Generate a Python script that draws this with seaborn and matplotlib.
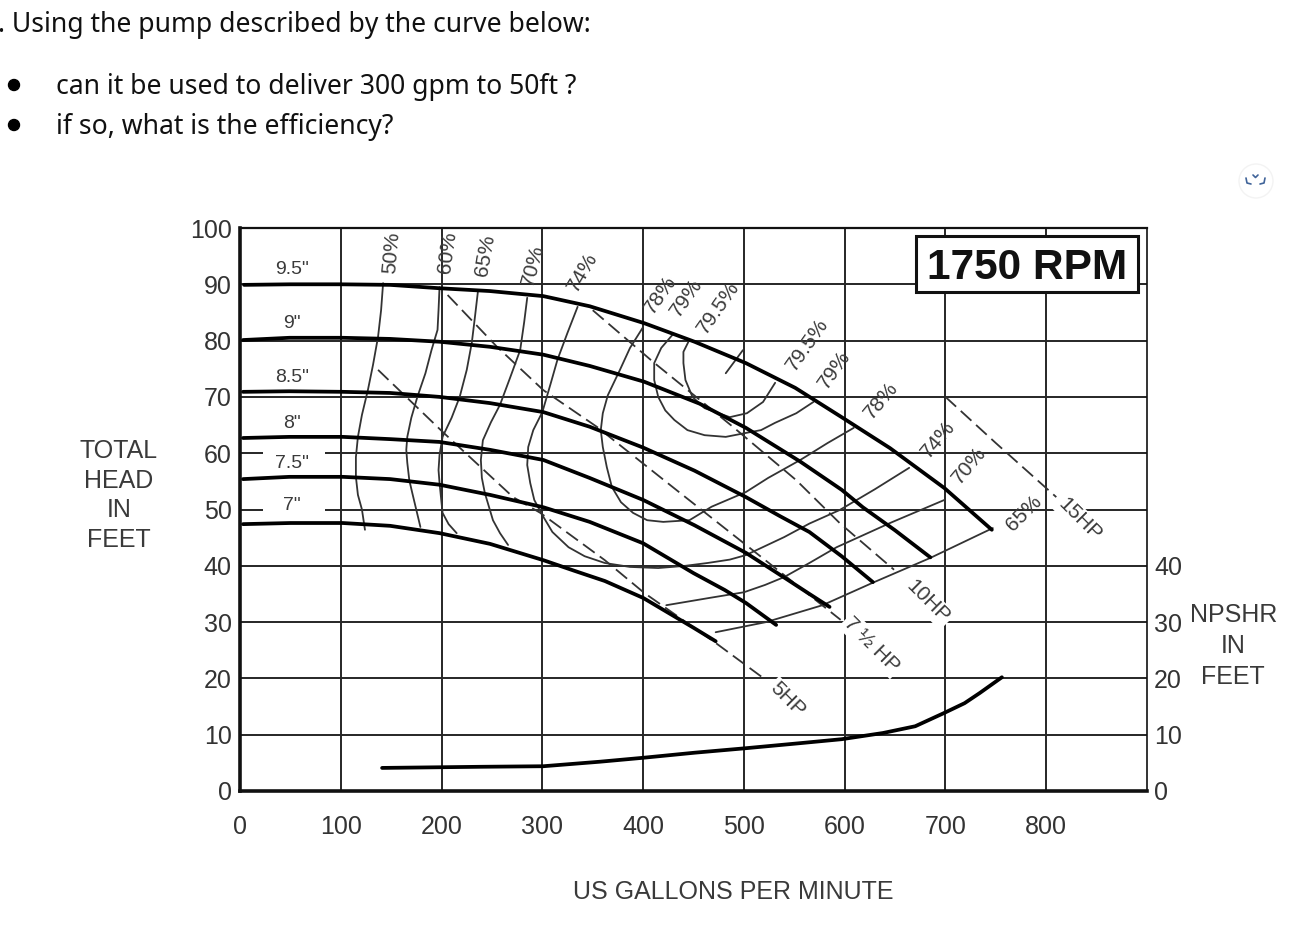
import matplotlib
matplotlib.use('Agg')
import matplotlib.pyplot as plt
from matplotlib.lines import Line2D
from matplotlib.patches import Rectangle, Ellipse
import seaborn as sns

W, H = 1308, 936

# impeller curves: gpm, head
gpm_95 = [4, 50, 99, 149, 198, 248, 301, 347, 401, 451, 502, 551, 597, 645, 699, 746]
head_95 = [89.9, 90, 90, 89.9, 89.3, 88.8, 87.9, 86.1, 83.1, 79.8, 76, 71.6, 66.4, 60.9, 53.8, 46.4]
gpm_90 = [3, 49, 102, 149, 198, 248, 301, 347, 401, 456, 502, 556, 597, 618, 650, 685]
head_90 = [80.1, 80.5, 80.5, 80.3, 79.8, 78.9, 77.5, 75.5, 72.7, 68.8, 64.5, 58.5, 53.5, 50.4, 46.3, 41.5]
gpm_85 = [3, 49, 102, 149, 198, 248, 301, 347, 400, 451, 502, 536, 565, 597, 628]
head_85 = [70.9, 71, 70.9, 70.7, 70, 68.9, 67.3, 64.7, 61, 56.9, 52.2, 48.8, 46, 41.7, 37.1]
gpm_80 = [3, 49, 102, 149, 198, 248, 301, 347, 400, 451, 502, 541, 565, 585]
head_80 = [62.7, 62.9, 62.9, 62.5, 62, 60.6, 58.8, 55.6, 51.7, 47.2, 42.3, 37.8, 35, 32.7]
gpm_75 = [3, 49, 102, 149, 198, 248, 301, 347, 400, 450, 481, 502, 532]
head_75 = [55.4, 55.8, 55.8, 55.4, 54.4, 52.6, 50.4, 47.8, 44, 38.7, 35.7, 33.4, 29.5]
gpm_70 = [3, 50, 102, 149, 198, 248, 301, 332, 362, 400, 450, 472]
head_70 = [47.4, 47.6, 47.6, 47.1, 45.8, 43.9, 41, 39.1, 37.3, 34.3, 29, 26.6]

# NPSHR
gpm_npshr = [141, 238, 301, 357, 400, 451, 502, 556, 597, 638, 670, 698, 719, 734, 756]
npshr = [4.1, 4.3, 4.4, 5.2, 5.9, 6.8, 7.6, 8.5, 9.2, 10.3, 11.5, 13.8, 15.6, 17.4, 20.2]

# efficiency lines
eff_50_x = [142, 140, 137, 132, 127, 121, 117, 115, 115, 117, 121, 124]
eff_50_y = [90.2, 85.4, 80.7, 75.7, 71.3, 66.8, 62.9, 59.3, 55.8, 52.6, 50, 46.4]
eff_60_x = [198, 197, 196, 190, 184, 176, 170, 166, 165, 166, 168, 171, 179]
eff_60_y = [89.5, 85.4, 81.9, 78.3, 74.2, 70, 66.3, 62.9, 60.6, 58.3, 55.2, 52.9, 46.9]
eff_65_x = [236, 233, 230, 225, 218, 210, 201, 198, 197, 198, 201, 207, 215]
eff_65_y = [88.6, 84, 79.6, 74.8, 70, 66.3, 62.9, 59.7, 57, 54.7, 49.4, 47.4, 45.8]
eff_70_x = [285, 282, 278, 268, 258, 249, 241, 239, 240, 243, 251, 258, 266]
eff_70_y = [87.6, 83.3, 78.3, 73.4, 68.6, 65.5, 62.3, 58.8, 55.6, 52.9, 48.1, 45.8, 43.7]
eff_74_x = [335, 325, 315, 308, 300, 291, 286, 285, 288, 292, 300, 310, 326, 342, 362, 387, 415,
            442, 464, 486, 502, 521, 540, 565, 595, 630, 664]
eff_74_y = [86, 81.4, 76.6, 72.2, 67.3, 64.1, 61.1, 57.9, 54.7, 51.7, 49, 46, 43.3, 41.7, 40.5, 39.8, 39.6,
            40, 40.5, 41.1, 41.9, 43.5, 45.1, 47.5, 49.9, 53.6, 57.4]
eff_78_x = [400, 387, 377, 365, 360, 358, 360, 364, 369, 378, 390, 404, 420, 446, 468, 502, 524, 556, 583, 609]
eff_78_y = [82.4, 78.7, 74.8, 70.3, 67.1, 64.1, 61.1, 57.5, 54, 51.3, 49.4, 48.1, 47.8, 48.1, 50.5, 53.1,
            55.6, 58.8, 61.8, 64.5]
eff_79_x = [429, 418, 411, 411, 415, 422, 431, 444, 461, 482, 502, 517, 531, 552, 569]
eff_79_y = [81, 78.7, 76, 73, 70, 67.6, 65.9, 64.1, 63.2, 62.9, 63.6, 64.1, 65.4, 67.1, 69.1]
eff_795_x = [445, 440, 440, 442, 449, 461, 486, 503, 519, 531]
eff_795_y = [79.8, 78, 76, 73, 70, 68, 66.4, 67.1, 69.1, 72.5]
eff_tick_x = [482, 499]
eff_tick_y = [74.2, 78.3]
eff_low65_x = [472, 522, 578, 628, 685, 747]
eff_low65_y = [28.2, 30, 33, 37, 41.4, 46.7]
eff_low70_x = [423, 466, 500, 521, 540, 565, 592, 645, 699]
eff_low70_y = [33, 34.3, 35.3, 36.6, 38, 40.5, 43.3, 47.6, 51.7]

# horsepower lines
hp_15_x = [700, 750, 810]
hp_15_y = [70, 61.8, 52.2]
hp_10_x = [350, 410, 489, 552, 595, 649]
hp_10_y = [85.4, 76.2, 64.7, 55.2, 47.6, 39.3]
hp_75_x = [206, 255, 301, 354, 437, 500, 546, 596]
hp_75_y = [88.1, 78.9, 71.2, 64.7, 52.9, 44, 37.5, 30.4]
hp_5_x = [137, 201, 271, 298, 362, 401, 472, 522]
hp_5_y = [74.8, 63.8, 52.2, 49.4, 41, 35.2, 26.3, 19.7]

x_ticks = [0, 100, 200, 300, 400, 500, 600, 700, 800]
y_ticks = [0, 10, 20, 30, 40, 50, 60, 70, 80, 90, 100]
npshr_ticks = [0, 10, 20, 30, 40]

sns.set_theme(style='white')
plt.rcParams['font.family'] = ['Liberation Sans', 'DejaVu Sans']

fig = plt.figure(figsize=(W / 100, H / 100), dpi=100)
ax = fig.add_axes([240 / W, 1 - 791 / H, 907 / W, 563 / H])
ax.set_xlim(0, 900)
ax.set_ylim(0, 100)

grid_col = '#262626'
ax.set_xticks(x_ticks)
ax.set_yticks(y_ticks)
ax.grid(True, color=grid_col, lw=1.4)
ax.set_axisbelow(True)
ax.tick_params(axis='x', length=0, pad=17, labelsize=18, labelcolor='#333333')
ax.tick_params(axis='y', length=0, pad=6, labelsize=18, labelcolor='#333333')
for side, lw in [('left', 2.6), ('bottom', 2.6), ('top', 1.6), ('right', 1.2)]:
    ax.spines[side].set_visible(True)
    ax.spines[side].set_linewidth(lw)
    ax.spines[side].set_color('#111111')

ax2 = ax.twinx()
ax2.set_ylim(0, 100)
ax2.set_yticks(npshr_ticks)
ax2.tick_params(axis='y', length=0, pad=5, labelsize=18, labelcolor='#333333')
ax2.grid(False)
for s in ax2.spines.values():
    s.set_visible(False)

# gaps in the grid next to the 7.5" and 7" labels
ax.hlines([60, 50], 23, 84, color='white', lw=4, zorder=1.5)

for xs, ys in [(eff_50_x, eff_50_y), (eff_60_x, eff_60_y), (eff_65_x, eff_65_y),
               (eff_70_x, eff_70_y), (eff_74_x, eff_74_y), (eff_78_x, eff_78_y),
               (eff_79_x, eff_79_y), (eff_795_x, eff_795_y), (eff_tick_x, eff_tick_y),
               (eff_low65_x, eff_low65_y), (eff_low70_x, eff_low70_y)]:
    sns.lineplot(x=xs, y=ys, sort=False, estimator=None, color='#333333', lw=1.3, ax=ax, zorder=2)

for xs, ys in [(hp_15_x, hp_15_y), (hp_10_x, hp_10_y), (hp_75_x, hp_75_y), (hp_5_x, hp_5_y)]:
    sns.lineplot(x=xs, y=ys, sort=False, estimator=None, color='#333333', lw=1.3,
                 linestyle=(0, (8, 3.5)), ax=ax, zorder=2)

for xs, ys in [(gpm_95, head_95), (gpm_90, head_90), (gpm_85, head_85),
               (gpm_80, head_80), (gpm_75, head_75), (gpm_70, head_70),
               (gpm_npshr, npshr)]:
    sns.lineplot(x=xs, y=ys, sort=False, estimator=None, color='black', lw=2.7, ax=ax, zorder=3)

ax.add_patch(Rectangle((670.6, 88.6), 220, 10, facecolor='white', edgecolor='#111111', lw=2.2, zorder=4))


def ptext(px, py, s, **kw):
    kw.setdefault('ha', 'center')
    kw.setdefault('va', 'center')
    kw.setdefault('color', '#3a3a3a')
    return fig.text(px / W, 1 - py / H, s, **kw)


ptext(1027, 268, '1750 RPM', fontsize=30.5, fontweight='bold', color='#111111', zorder=6)

# impeller labels
for py, s in [(270, '9.5"'), (324, '9"'), (378, '8.5"'), (423, '8"'), (463, '7.5"'), (505, '7"')]:
    ptext(292, py, s, fontsize=14)

# efficiency labels
eff_labels = [(392, 253, '50%', 85), (447, 252, '60%', 82), (485, 255, '65%', 80),
              (533, 265, '70%', 75), (583, 272, '74%', 60), (660, 295, '78%', 55),
              (686, 298, '79%', 55), (718, 308, '79.5%', 55), (807, 345, '79.5%', 55),
              (834, 370, '79%', 55), (881, 400, '78%', 50), (938, 439, '74%', 50),
              (969, 465, '70%', 50), (1024, 513, '65%', 45)]
for px, py, s, rot in eff_labels:
    ptext(px, py, s, fontsize=15, rotation=rot, rotation_mode='anchor')

hp_labels = [(1080, 520, '15HP'), (928, 602, '10HP'), (872, 645, '7 ½ HP'), (787, 700, '5HP')]
for px, py, s in hp_labels:
    ptext(px, py, s, fontsize=15, rotation=-45, rotation_mode='anchor',
          bbox=dict(facecolor='white', edgecolor='none', pad=1.5))

# axis titles
for py, s in [(451, 'TOTAL'), (481, 'HEAD'), (510, 'IN'), (540, 'FEET')]:
    ptext(119, py, s, fontsize=18)
for px, py, s in [(1234, 615, 'NPSHR'), (1233, 646, 'IN'), (1233, 677, 'FEET')]:
    ptext(px, py, s, fontsize=18)
ptext(733, 892, 'US GALLONS PER MINUTE', fontsize=18)

# question text above the chart
qfont = dict(family=['Noto Sans', 'DejaVu Sans'], color='#111111', ha='left', fontsize=19.1)
ptext(-2, 25, '. Using the pump described by the curve below:', **qfont)
ptext(56, 87, 'can it be used to deliver 300 gpm to 50ft ?', **qfont)
ptext(56, 127, 'if so, what is the efficiency?', **qfont)
for py in [85, 125]:
    fig.add_artist(Ellipse((14 / W, 1 - py / H), 11 / W, 11 / H, color='black', transform=fig.transFigure))

# small button at the right of the screenshot
fig.add_artist(Ellipse((1256 / W, 1 - 181 / H), 34 / W, 34 / H, facecolor='white', edgecolor='#f3f3f3',
                       lw=1, transform=fig.transFigure))
for px, py in [([1246, 1247, 1251], [178, 183, 184]), ([1265, 1264, 1260], [178, 183, 184]),
               ([1253, 1255.5, 1258], [175, 177.5, 175])]:
    fig.add_artist(Line2D([p / W for p in px], [1 - p / H for p in py], color='#3f6399', lw=1.2,
                          transform=fig.transFigure))

fig.savefig('out.png', dpi=100)
